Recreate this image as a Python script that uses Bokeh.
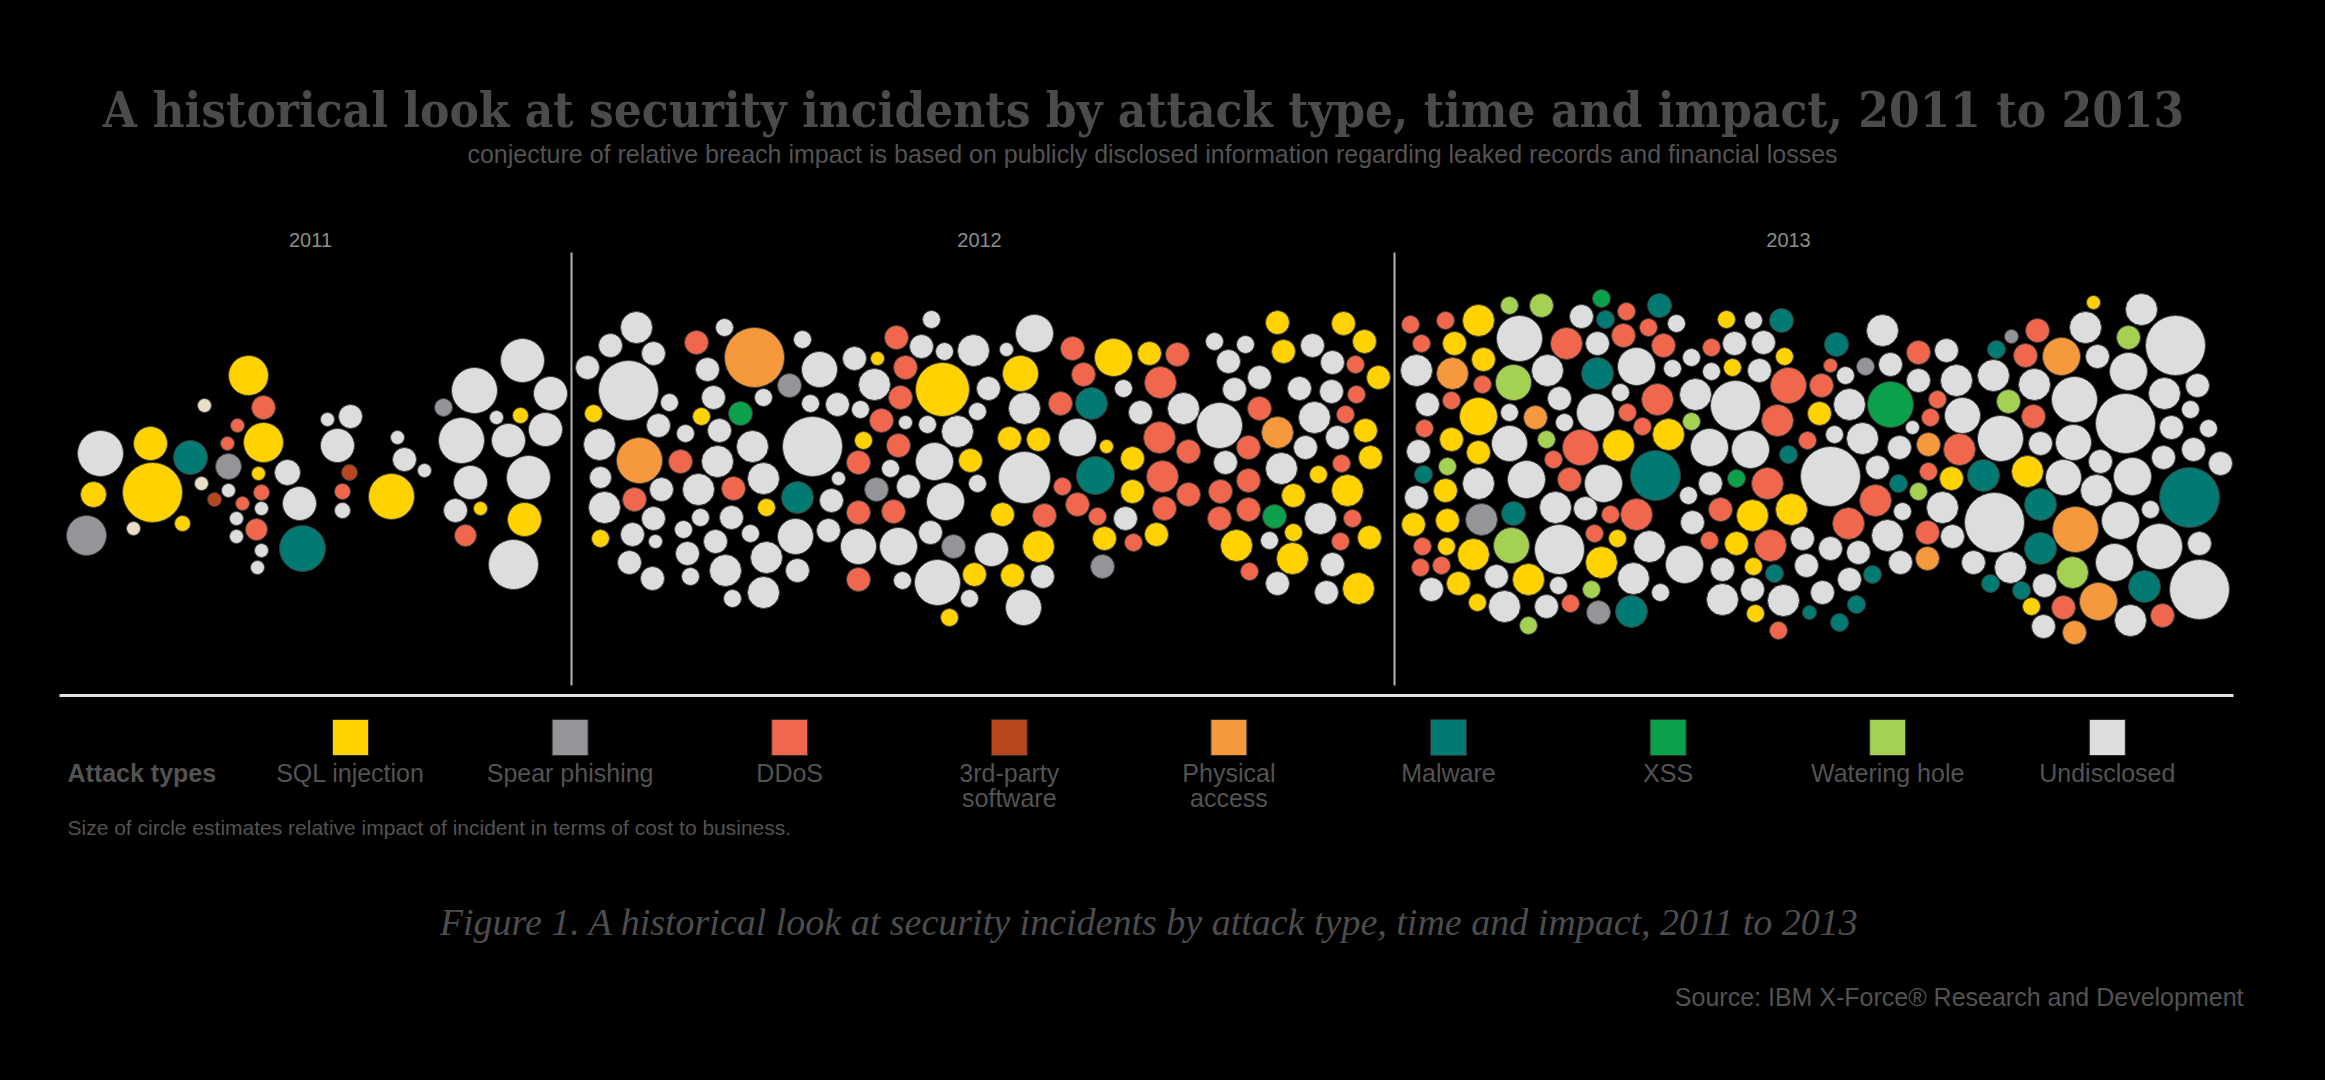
import re
from bokeh.plotting import figure
from bokeh.models import Range1d, Label, ColumnDataSource
from bokeh.embed import file_html
from bokeh.resources import INLINE

# ---------------- data ----------------
attack_types = ["SQL injection", "Spear phishing", "DDoS", "3rd-party software",
                "Physical access", "Malware", "XSS", "Watering hole", "Undisclosed"]
type_codes = ["S", "G", "D", "T", "P", "M", "X", "W", "U"]
type_colors = ["#FFD200", "#939598", "#F1674D", "#B7471D", "#F6993D",
               "#007A72", "#0BA14B", "#A5D152", "#DCDDDE"]
other_code, other_color = "O", "#E9DFC4"

years = ["2011", "2012", "2013"]

# incidents: horizontal (time) position, vertical spread, impact radius, attack type
x_2011 = [248,263,204,327,350,237,227,263,337,100,150,190,228,258,287,349,93,152,201,228,
          214,261,342,242,261,299,342,236,256,182,133,86,236,302,261,257,397,404,424,391,
          443,474,522,550,496,520,545,461,508,528,470,455,480,524,465,513]
y_2011 = [375,407,405,419,416,425,443,442,445,453,443,457,466,473,472,472,494,492,483,490,
          499,492,491,503,508,503,510,518,529,523,528,535,536,548,550,567,437,459,470,496,
          407,390,360,393,417,415,429,440,440,477,482,510,508,519,535,564]
r_2011 = [20,12,7,7,12,7,7,20,17,23,17,17,13,7,13,8,13,30,7,7,
          7,8,8,7,7,17,8,7,11,8,7,20,7,23,7,7,7,12,7,23,
          9,23,22,17,7,8,17,23,17,22,17,12,7,17,11,25]
t_2011 = ("S D O U U D D S U U S M G S U T S S O U "
          "T D D D U U U U D S O G U M U U U U U S "
          "G U U U U S U U U U U U S S D U").split()

x_2012 = [587,610,636,653,628,593,669,658,599,639,680,600,661,634,604,653,600,632,655,629,
          652,696,724,754,707,802,789,819,713,763,701,740,810,837,854,877,896,931,921,944,
          973,905,874,942,900,988,860,977,719,685,752,812,881,905,927,957,863,898,717,858,
          890,934,970,698,733,763,838,876,977,797,766,831,858,893,908,945,700,731,683,750,
          795,828,858,898,930,953,991,715,687,766,725,690,797,858,902,937,974,763,732,969,
          949,
          1034,1006,1020,1072,1083,1113,1149,1177,1123,1160,1024,1060,1091,1140,1183,1219,1214,1245,1277,1283,
          1228,1259,1234,1259,1277,1009,1038,1077,1106,1159,1188,1132,1024,1095,1162,1062,1225,1248,1281,1132,
          1188,1220,1248,1293,1002,1044,1077,1097,1125,1164,1219,1248,1274,1038,1104,1133,1156,1236,1269,1293,
          1292,1102,1012,1042,1249,1277,1023,
          1343,1364,1312,1332,1355,1378,1299,1331,1356,1314,1345,1365,1337,1305,1370,1341,1318,1347,1320,1352,
          1369,1340,1332,1326,1358]
y_2012 = [367,345,327,353,390,413,402,425,444,460,461,477,489,499,507,518,538,534,541,562,
          578,342,327,357,369,339,385,369,397,397,416,413,403,404,358,358,337,319,346,351,
          350,367,384,389,397,388,409,411,430,433,446,446,420,422,424,431,440,445,461,462,
          468,461,460,489,488,478,478,489,483,497,507,500,512,511,486,501,517,517,529,533,
          536,530,546,546,532,546,549,541,553,557,570,576,570,579,580,582,574,592,598,598,
          617,
          333,349,373,348,374,357,353,354,388,382,408,403,403,412,408,425,341,344,322,351,
          361,377,389,408,432,438,439,437,446,437,451,458,477,475,476,486,462,447,468,491,
          494,491,480,495,514,515,504,516,518,508,518,509,516,546,538,542,534,545,540,532,
          558,566,575,576,571,583,607,
          323,341,345,362,364,377,388,391,394,417,414,430,437,447,457,463,474,490,518,518,
          537,541,564,592,588]
r_2012 = [12,12,16,12,30,9,9,12,16,23,12,11,12,12,16,12,9,12,7,12,
          12,12,9,30,12,9,12,18,12,9,9,12,9,12,12,7,12,9,12,9,
          16,12,16,27,12,12,9,9,12,9,16,30,12,7,9,16,9,12,16,12,
          9,19,12,16,12,16,7,12,9,16,9,12,12,12,12,19,9,12,9,9,
          18,12,18,19,12,12,17,12,12,16,16,9,12,12,9,23,12,16,9,9,
          9,
          19,7,18,12,12,19,12,12,9,16,16,12,16,12,16,23,9,9,12,12,
          12,12,12,12,16,12,12,19,7,16,12,12,26,19,16,9,12,12,16,12,
          12,12,12,12,12,12,12,9,12,12,12,12,12,16,12,9,12,16,9,9,
          16,12,12,12,9,12,18,
          12,12,12,12,9,12,12,12,9,16,9,12,12,12,12,9,9,16,16,9,
          12,9,12,12,16]
t_2012 = ("U U U U U S U U U P D U U D U U S U U U "
          "U D U P U U G U U U S X U U U S D U U U "
          "U D U S D U U U U U U U D U U U S D U D "
          "U U S U D U U G U M S U D D U U U U U U "
          "U U U U U G U U U U U U U D U U S U U U "
          "S "
          "U U S D D S S D U D U D M U U U U U S S "
          "U U U D P S S U S D D S U M D D U D U S "
          "D D D S S D D D U D D D X S S D S S U S "
          "S G S U D U U "
          "S S U U D S U U D U D S U U S D S S U D "
          "S D U U S").split()

x_2013 = [1410,1445,1478,1509,1541,1601,1581,1605,1421,1454,1519,1566,1597,1416,1452,1483,1513,1547,1597,1482,
          1427,1451,1478,1509,1535,1559,1564,1595,1424,1451,1509,1546,1580,1618,1418,1478,1553,1423,1447,1478,
          1526,1569,1603,1416,1445,1481,1513,1555,1585,1610,1413,1447,1511,1559,1594,1617,1422,1446,1473,1601,
          1420,1441,1496,1528,1558,1591,1431,1458,1477,1504,1546,1570,1598,1528,
          1659,1626,1648,1676,1623,1663,1636,1672,1620,1657,1627,1642,1668,1655,1726,1753,1781,1691,1711,1734,
          1763,1784,1711,1732,1759,1788,1695,1735,1691,1777,1709,1750,1788,1736,1710,1767,1688,1720,1752,1791,
          1636,1692,1709,1736,1770,1649,1684,1722,1753,1774,1633,1660,1752,1722,1755,1783,1631,1778,1836,1830,
          1865,1845,1882,1890,1821,1849,1890,1918,1918,1819,1834,1807,1862,1912,1899,1928,1830,1877,1898,1928,
          1918,1875,1902,1848,1887,1927,1802,1830,1858,1900,1927,1806,1849,1872,1822,1856,1809,1839,
          1946,1996,2011,2037,2025,2061,2093,2085,2141,2128,2175,2097,1956,1993,2034,2128,2197,1937,2008,2074,
          2164,2190,1930,1962,2033,2125,2171,2208,2000,2040,2073,1959,2100,2163,2193,2220,1951,1983,2027,2063,
          2096,2132,2189,1942,1994,2040,2075,2120,2150,1952,2040,2159,2199,1973,2010,2072,2114,2144,2199,1990,
          2021,2044,2098,2031,2063,2130,2162,2043,2074]
y_2013 = [324,320,320,305,305,298,316,319,343,343,338,343,343,370,373,359,382,370,373,384,
          404,400,416,412,417,398,422,412,428,439,443,439,447,445,451,452,459,474,466,483,
          479,479,483,497,490,519,513,507,508,514,524,520,545,549,533,538,546,546,554,562,
          567,565,576,579,585,589,589,583,602,606,606,603,612,625,
          305,311,327,323,335,345,366,368,392,399,412,426,434,475,319,320,320,357,347,343,
          342,356,371,367,370,385,394,405,421,420,447,449,454,478,483,483,495,509,515,509,
          514,522,540,543,545,546,564,569,566,573,578,592,589,599,613,600,611,630,344,365,
          366,375,330,364,385,404,404,352,380,413,434,440,438,427,447,444,476,467,483,471,
          491,500,511,523,535,532,538,548,552,562,558,565,579,574,592,604,612,622,
          350,349,336,330,355,356,302,327,309,337,345,356,380,375,384,371,385,399,401,399,
          393,409,417,415,416,423,427,428,438,443,442,449,461,457,449,463,478,475,471,477,
          490,476,497,507,522,504,529,520,509,536,548,546,543,562,567,572,562,586,589,583,
          590,585,601,606,607,620,615,626,632]
r_2013 = [9,9,16,9,12,9,12,9,9,12,23,16,12,16,16,12,18,16,16,9,
          12,9,19,9,12,12,9,19,9,12,18,9,18,16,12,12,9,9,9,16,
          19,12,19,12,12,16,12,16,12,9,12,12,18,25,9,9,9,9,16,16,
          9,9,12,16,9,9,12,12,9,16,12,9,12,9,
          12,9,9,9,12,12,19,9,9,16,9,9,16,25,9,9,12,9,9,12,
          12,9,9,9,12,18,16,25,9,16,19,19,9,9,12,16,9,12,16,16,
          16,12,9,12,16,16,19,12,9,9,16,9,12,16,9,16,16,9,12,7,
          9,9,16,12,12,16,23,12,12,12,9,9,16,7,12,12,30,12,9,9,
          9,16,9,16,16,12,12,12,12,12,12,12,12,9,12,9,7,9,
          12,9,7,12,12,19,7,16,16,12,30,12,16,16,16,19,12,9,12,23,
          16,9,9,18,12,30,12,9,23,12,18,16,12,12,12,12,12,16,16,18,
          16,19,30,16,30,16,23,19,9,12,16,23,12,12,16,16,19,16,30,9,
          9,12,19,9,12,16,12,12,12]
t_2013 = ("D D S W W X U M D S U D U U P S W U M D "
          "U D S U P U U U D S U W D S U S D M W U "
          "U D U U S G M U U D S S W U D S D S S S "
          "D D U S U W U S S U U D G W "
          "M D D U D D U U U D D D S M S U M U D U "
          "U S U S U D U U W D U U M X U D U D S S "
          "D U D S D U U U S M U U U U S U M D M D "
          "G U U U D U X D U S U D U U U P U U M D "
          "W D U D U D U U U U P U U M U M M M "
          "U M G D D P S U U W U U U U U U U D W U "
          "U U D U D U U U U U U D U U U U S M S U "
          "U U M U U M P U U U M U U U U W U M U M "
          "M U P S D U D U P").split()

# ---------------- figure ----------------
W, H = 2325, 1080
p = figure(width=W, height=H, x_range=Range1d(0, W), y_range=Range1d(H, 0),
           output_backend="svg", toolbar_location=None, min_border=0,
           x_axis_location=None, y_axis_location=None)
p.grid.visible = False
p.outline_line_color = None
p.background_fill_color = "#000000"
p.border_fill_color = "#000000"

color_of = dict(zip(type_codes, type_colors))
color_of[other_code] = other_color

xs, ys, rs, cs = [], [], [], []
for X, Y, R, T in [(x_2011, y_2011, r_2011, t_2011),
                   (x_2012, y_2012, r_2012, t_2012),
                   (x_2013, y_2013, r_2013, t_2013)]:
    for a, b, c, d in zip(X, Y, R, T):
        xs.append(a); ys.append(b); rs.append(c); cs.append(color_of.get(d, "#DCDDDE"))

src = ColumnDataSource(dict(x=xs, y=ys, r=rs, c=cs))
p.circle(x="x", y="y", radius="r", source=src, fill_color="c",
         line_color="#3c3c3c", line_width=1)

# year separators and baseline
p.segment(x0=[571, 1394], y0=[252, 252], x1=[571, 1394], y1=[685, 685],
          line_color="#b4b4b4", line_width=2)
p.segment(x0=[59], y0=[695], x1=[2233], y1=[695], line_color="#e4e4e4", line_width=3)

grey = "#535353"
# title & subtitle
p.add_layout(Label(x=1143, y=109, text="A historical look at security incidents by attack type, time and impact, 2011 to 2013",
                   text_font="DejaVu Serif Condensed", text_font_style="bold", text_font_size="49px",
                   text_color="#4b4b4b", text_align="center", text_baseline="alphabetic"))
p.add_layout(Label(x=1152, y=153, text="conjecture of relative breach impact is based on publicly disclosed information regarding leaked records and financial losses",
                   text_font="Liberation Sans", text_font_size="25px", text_color=grey,
                   text_align="center", text_baseline="alphabetic"))

for yr, xc in zip(years, [310, 979, 1788]):
    p.add_layout(Label(x=xc, y=239, text=yr, text_font="Liberation Sans", text_font_size="20px",
                       text_color="#8c8c8c", text_align="center", text_baseline="alphabetic"))

# legend
leg_x = [350 + i * 219.6 for i in range(len(attack_types))]
p.rect(x=leg_x, y=[737] * len(leg_x), width=36, height=36, fill_color=type_colors,
       line_color="#2a2a2a", line_width=1)
p.add_layout(Label(x=67, y=772, text="Attack types", text_font="Liberation Sans",
                   text_font_style="bold", text_font_size="25px", text_color=grey,
                   text_baseline="alphabetic"))
for name, xc in zip(attack_types, leg_x):
    if name == "3rd-party software":
        lines = ["3rd-party", "software"]
    elif name == "Physical access":
        lines = ["Physical", "access"]
    else:
        lines = [name]
    for k, ln in enumerate(lines):
        p.add_layout(Label(x=xc, y=772 + 25 * k, text=ln, text_font="Liberation Sans",
                           text_font_size="25px", text_color=grey, text_align="center",
                           text_baseline="alphabetic"))

p.add_layout(Label(x=67, y=827, text="Size of circle estimates relative impact of incident in terms of cost to business.",
                   text_font="Liberation Sans", text_font_size="21px", text_color=grey,
                   text_baseline="alphabetic"))

p.add_layout(Label(x=1149, y=921, text="Figure 1. A historical look at security incidents by attack type, time and impact, 2011 to 2013",
                   text_font="Liberation Serif", text_font_style="italic", text_font_size="38px",
                   text_color="#4d4d4d", text_align="center", text_baseline="alphabetic"))
p.add_layout(Label(x=2243, y=996, text="Source: IBM X-Force\u00ae Research and Development",
                   text_font="Liberation Sans", text_font_size="25px", text_color=grey,
                   text_align="right", text_baseline="alphabetic"))

html = file_html(p, INLINE)
html = re.sub(r"<body([^>]*)>", r'<body\1 style="background-color:#000000;margin:0;">', html, count=1)
html = re.sub(r"<html([^>]*)>", r'<html\1 style="background-color:#000000;">', html, count=1)
open("out.html", "w").write(html)
